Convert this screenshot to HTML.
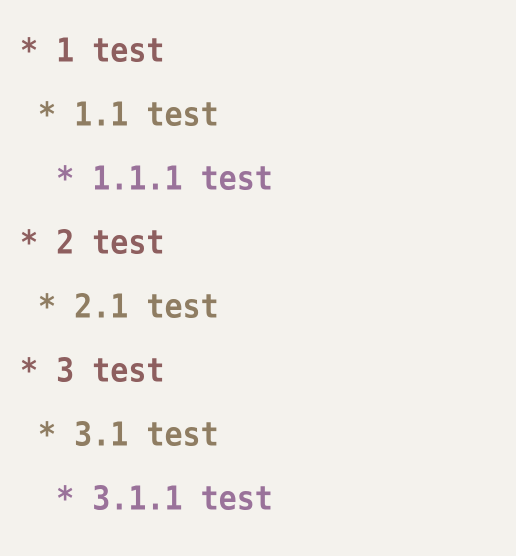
<!DOCTYPE html>
<html><head><style>
html,body{margin:0;padding:0;background:#f4f2ed;width:516px;height:556px;overflow:hidden}
.l{position:absolute;left:20px;font-family:"DejaVu Sans Mono","Liberation Mono",monospace;font-weight:bold;font-size:30px;line-height:30px;white-space:pre;transform:scaleY(1.1);transform-origin:0 100%}
.a{color:#8e5f5f}.b{color:#8f7d62}.c{color:#9a729a}
</style></head><body>
<div class="l a" style="top:38px">* 1 test</div>
<div class="l b" style="top:102px"> * 1.1 test</div>
<div class="l c" style="top:166px">  * 1.1.1 test</div>
<div class="l a" style="top:230px">* 2 test</div>
<div class="l b" style="top:294px"> * 2.1 test</div>
<div class="l a" style="top:358px">* 3 test</div>
<div class="l b" style="top:422px"> * 3.1 test</div>
<div class="l c" style="top:486px">  * 3.1.1 test</div>
</body></html>
